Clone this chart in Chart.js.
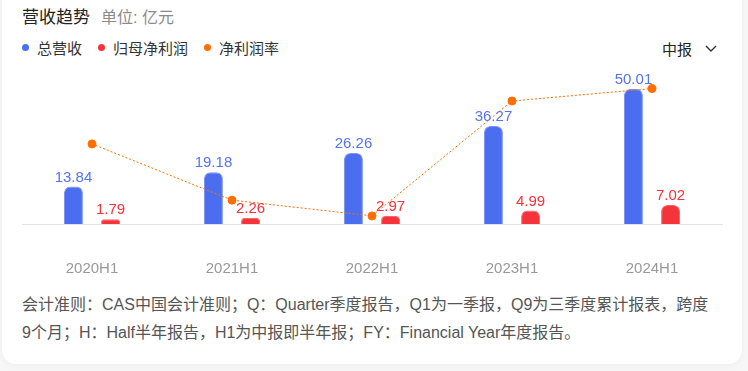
<!DOCTYPE html>
<html>
<head>
<meta charset="utf-8">
<script src="https://cdn.jsdelivr.net/npm/chart.js@4.4.0/dist/chart.umd.min.js"></script>
<style>
  html, body { margin: 0; padding: 0; background: #f7f7f7; }
  body { width: 748px; height: 371px; overflow: hidden; font-family: Arial, "Liberation Sans", "Noto Sans CJK SC", sans-serif; }
  .card {
    position: absolute; left: 2px; top: -20px; width: 740px; height: 384px;
    background: #fff; border-radius: 14px;
    box-shadow: 0 2px 6px rgba(0,0,0,0.04);
  }
  .title { position: absolute; left: 22px; top: 3px; font-size: 17px; color: #222; white-space: nowrap; }
  .title .unit { font-size: 16px; color: #8a8a8a; margin-left: 11px; }
  .legend { position: absolute; left: 22px; top: 37px; font-size: 15px; color: #333; white-space: nowrap; display: flex; align-items: center; }
  .legend span { display: flex; align-items: center; margin-right: 16px; }
  .legend i { display: inline-block; width: 7px; height: 7px; border-radius: 50%; margin-right: 8px; }
  .period { position: absolute; left: 662px; top: 38px; font-size: 15px; color: #222; white-space: nowrap; }
  .period svg { margin-left: 13px; vertical-align: 2px; }
  .chart { position: absolute; left: 0; top: 60px; width: 748px; height: 224px; }
  .note { position: absolute; left: 22px; top: 291px; width: 692px; font-size: 16px; line-height: 28px; color: #555; }
</style>
</head>
<body>
<div class="card"></div>
<div class="title">营收趋势<span class="unit">单位: 亿元</span></div>
<div class="legend"><span><i style="background:#4b6ef0"></i>总营收</span><span><i style="background:#f5333b"></i>归母净利润</span><span><i style="background:#ff6e00"></i>净利润率</span></div>
<div class="period">中报<svg width="12" height="8" viewBox="0 0 12 8"><path d="M1 1 L6 6 L11 1" fill="none" stroke="#333" stroke-width="1.4"/></svg></div>
<div class="chart"><canvas id="trendChart"></canvas></div>
<div class="note">会计准则：CAS中国会计准则；Q：Quarter季度报告，Q1为一季报，Q9为三季度累计报表，跨度9个月；H：Half半年报告，H1为中报即半年报；FY：Financial Year年度报告。</div>

<script>
// Data (亿元, %)
const periods = ['2020H1', '2021H1', '2022H1', '2023H1', '2024H1'];
const revenue = [13.84, 19.18, 26.26, 36.27, 50.01];
const netProfit = [1.79, 2.26, 2.97, 4.99, 7.02];
const netMargin = [12.89, 11.71, 11.38, 13.79, 14.05];

const blue = '#4b6ef0';
const red = '#f5333b';
const orange = '#ff6e00';

// Value labels above the bars
const barLabels = {
  id: 'barLabels',
  afterDatasetsDraw(chart) {
    const ctx = chart.ctx;
    ctx.save();
    ctx.font = '15px Arial, "Liberation Sans", sans-serif';
    ctx.textAlign = 'center';
    ctx.textBaseline = 'alphabetic';
    [0, 1].forEach(i => {
      const ds = chart.data.datasets[i];
      chart.getDatasetMeta(i).data.forEach((bar, j) => {
        ctx.fillStyle = ds.labelColor;
        ctx.fillText(ds.data[j].toFixed(2), bar.x, bar.y - 5);
      });
    });
    ctx.restore();
  }
};

new Chart(document.getElementById('trendChart'), {
  data: {
    labels: periods,
    datasets: [
      {
        type: 'bar', label: '总营收', data: revenue, yAxisID: 'y',
        backgroundColor: blue, borderColor: '#7e95f4', borderWidth: 1,
        borderRadius: { topLeft: 6, topRight: 6 }, borderSkipped: 'bottom',
        labelColor: '#5673f0', order: 2
      },
      {
        type: 'bar', label: '归母净利润', data: netProfit, yAxisID: 'y',
        backgroundColor: red, borderColor: '#f7666c', borderWidth: 1,
        borderRadius: { topLeft: 6, topRight: 6 }, borderSkipped: 'bottom',
        labelColor: '#f5333b', order: 2
      },
      {
        type: 'line', label: '净利润率', data: netMargin, yAxisID: 'y1',
        borderColor: orange, borderWidth: 1, borderDash: [2, 2],
        pointRadius: 4, pointBackgroundColor: orange, pointBorderColor: orange,
        tension: 0, order: 1
      }
    ]
  },
  options: {
    responsive: true,
    maintainAspectRatio: false,
    animation: false,
    layout: { padding: { left: 22, right: 26, top: 10, bottom: 0 } },
    plugins: { legend: { display: false }, tooltip: { enabled: false } },
    datasets: { bar: { categoryPercentage: 0.53, barPercentage: 0.51 } },
    scales: {
      x: {
        grid: { display: false, drawTicks: false },
        border: { display: true, color: '#e3e3e3', width: 1 },
        ticks: { color: '#999', font: { size: 15 }, padding: 36, maxRotation: 0 },
        afterFit: scale => { scale.height = 60; }
      },
      y: { display: false, min: 0, max: 57 },
      y1: { display: false, min: 11.21, max: 14.44 }
    }
  },
  plugins: [barLabels]
});
</script>
</body>
</html>
